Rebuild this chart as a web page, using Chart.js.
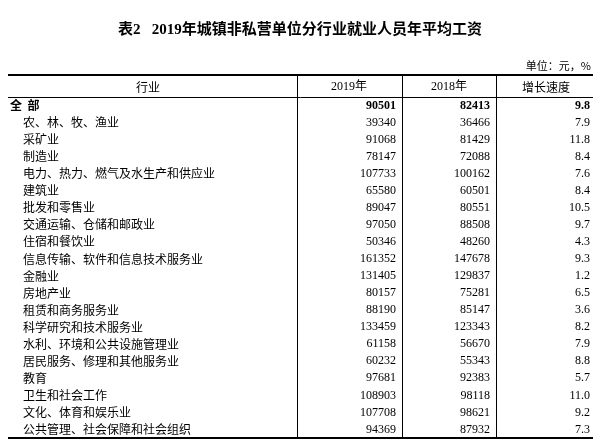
<!DOCTYPE html>
<html><head><meta charset="utf-8">
<script src="https://cdn.jsdelivr.net/npm/chart.js@4"></script>
<style>html,body{margin:0;padding:0;background:#fff}#w{width:600px;height:445px}</style>
</head><body><div id="w"><canvas id="c"></canvas></div>
<script>
const categories=["全  部","农、林、牧、渔业","采矿业","制造业","电力、热力、燃气及水生产和供应业","建筑业","批发和零售业","交通运输、仓储和邮政业","住宿和餐饮业","信息传输、软件和信息技术服务业","金融业","房地产业","租赁和商务服务业","科学研究和技术服务业","水利、环境和公共设施管理业","居民服务、修理和其他服务业","教育","卫生和社会工作","文化、体育和娱乐业","公共管理、社会保障和社会组织"];
const wage2019=[90501,39340,91068,78147,107733,65580,89047,97050,50346,161352,131405,80157,88190,133459,61158,60232,97681,108903,107708,94369];
const wage2018=[82413,36466,81429,72088,100162,60501,80551,88508,48260,147678,129837,75281,85147,123343,56670,55343,92383,98118,98621,87932];
const growth=[9.8,7.9,11.8,8.4,7.6,8.4,10.5,9.7,4.3,9.3,1.2,6.5,3.6,8.2,7.9,8.8,5.7,11.0,9.2,7.3];
const headers=["行业","2019年","2018年","增长速度"];
const title="表2   2019年城镇非私营单位分行业就业人员年平均工资";
const unit="单位：元，%";
const CJK='"Noto Sans CJK SC", sans-serif', SER='"Liberation Serif", serif';
const tablePlugin={id:'tbl',afterDraw(ch){
  const c=ch.ctx, y=ch.scales.y, L=8, R=593, top=ch.chartArea.top, bot=ch.chartArea.bottom;
  const vx=[297,402,496];
  c.save();c.fillStyle='#000';c.strokeStyle='#000';c.textBaseline='middle';
  c.font='bold 15px '+SER+','+CJK;c.textAlign='center';c.fillText(title,300,30);
  c.font='11px '+CJK;c.textAlign='right';c.fillText(unit,591,66);
  c.lineWidth=2;c.beginPath();c.moveTo(L,75);c.lineTo(R,75);c.moveTo(L,bot);c.lineTo(R,bot);c.stroke();
  c.lineWidth=1;c.beginPath();c.moveTo(L,top+0.5);c.lineTo(R,top+0.5);
  vx.forEach(x=>{c.moveTo(x+0.5,75);c.lineTo(x+0.5,bot);});c.stroke();
  c.font='12px '+CJK;c.textAlign='center';
  c.fillText(headers[0],148,87);c.fillText(headers[3],546,87);
  c.font='12px '+SER+','+CJK;c.fillText(headers[1],349,87);c.fillText(headers[2],449,87);
  categories.forEach((cat,i)=>{
    const py=y.getPixelForValue(i), b=i===0;
    c.textAlign='left';c.font=(b?'bold ':'')+'12px '+CJK;
    c.fillText(cat,b?10:23,py);
    c.textAlign='right';c.font=(b?'bold ':'')+'12px '+SER;
    c.fillText(String(wage2019[i]),396,py);
    c.fillText(String(wage2018[i]),490,py);
    c.fillText(growth[i].toFixed(1),590,py);
  });
  c.restore();
}};
new Chart(document.getElementById('c'),{type:'bar',
 data:{labels:categories,datasets:[{data:wage2019,backgroundColor:'rgba(0,0,0,0)'}]},
 options:{indexAxis:'y',responsive:true,maintainAspectRatio:false,animation:false,
  layout:{padding:{top:97,bottom:7,left:8,right:7}},
  plugins:{legend:{display:false},tooltip:{enabled:false}},
  scales:{x:{display:false},y:{display:false}}},
 plugins:[tablePlugin]});
</script></body></html>
